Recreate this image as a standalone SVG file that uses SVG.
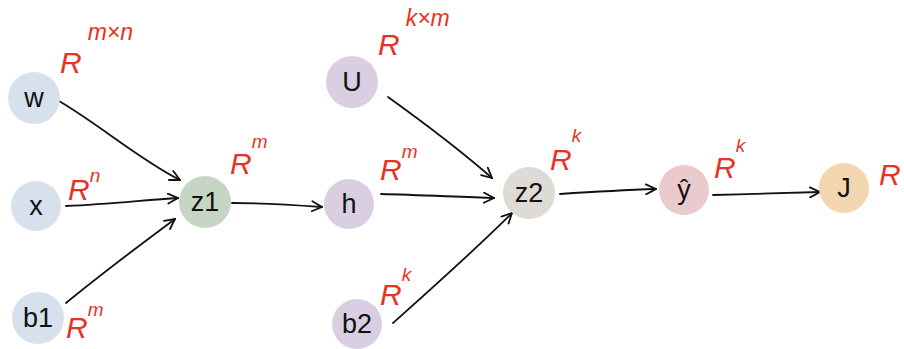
<svg xmlns="http://www.w3.org/2000/svg" width="904" height="349" viewBox="0 0 904 349">
<style>
.lbl{font-family:"Liberation Sans",Arial,sans-serif;font-size:27px;fill:#111;text-anchor:middle;dominant-baseline:central}
.dim{font-family:"Liberation Sans",Arial,sans-serif;font-style:italic;fill:#e8321f}
.dim .R{font-size:30px}
.dim .s{font-size:19px}
.dim .w{font-size:23px}
.edge{fill:none;stroke:#111;stroke-width:1.8;stroke-linecap:round}
</style>
<defs>
<marker id="ah" viewBox="0 0 12 12" refX="11" refY="6" markerWidth="12" markerHeight="12" markerUnits="userSpaceOnUse" orient="auto">
<path d="M1,1 L11,6 L1,11" fill="none" stroke="#111" stroke-width="1.8" stroke-linecap="round"/>
</marker>
</defs>
<g id="connectors">
<path class="edge" marker-end="url(#ah)" d="M59,101 C100,125 140,160 180,180"/>
<path class="edge" marker-end="url(#ah)" d="M66,206 C110,204 145,200 178,198"/>
<path class="edge" marker-end="url(#ah)" d="M66,303 C100,275 140,245 175,219"/>
<path class="edge" marker-end="url(#ah)" d="M232,203 C265,203 295,205 322,207"/>
<path class="edge" marker-end="url(#ah)" d="M388,97 C420,120 460,150 492,178"/>
<path class="edge" marker-end="url(#ah)" d="M381,194 C420,195 460,197 494,198"/>
<path class="edge" marker-end="url(#ah)" d="M393,323 C430,290 475,250 512,213"/>
<path class="edge" marker-end="url(#ah)" d="M560,194 C590,192 625,190 656,189"/>
<path class="edge" marker-end="url(#ah)" d="M713,195 C750,194 790,193 820,192"/>
</g>
<g id="node-W"><circle cx="34" cy="98" r="26" fill="#d6e1ed"/><text class="lbl" x="34" y="98">w</text></g>
<g id="node-x"><circle cx="36" cy="206" r="25" fill="#d6e1ed"/><text class="lbl" x="36" y="206">x</text></g>
<g id="node-b1"><circle cx="38" cy="318" r="26" fill="#d6e1ed"/><text class="lbl" x="38" y="318">b1</text></g>
<g id="node-z1"><circle cx="205" cy="202" r="26" fill="#c5d6c4"/><text class="lbl" x="205" y="202">z1</text></g>
<g id="node-h"><circle cx="349" cy="204" r="25" fill="#dacfe2"/><text class="lbl" x="349" y="204">h</text></g>
<g id="node-U"><circle cx="352" cy="82" r="26" fill="#dacfe2"/><text class="lbl" x="352" y="82">U</text></g>
<g id="node-b2"><circle cx="357" cy="324" r="25" fill="#dacfe2"/><text class="lbl" x="357" y="324">b2</text></g>
<g id="node-z2"><circle cx="529" cy="193" r="26" fill="#dedad6"/><text class="lbl" x="529" y="193">z2</text></g>
<g id="node-yhat"><circle cx="684" cy="190" r="25" fill="#eacacc"/><text class="lbl" x="684" y="190">ŷ</text></g>
<g id="node-J"><circle cx="844" cy="188" r="25" fill="#f2d6b0"/><text class="lbl" x="844" y="188">J</text></g>
<g id="dims">
<text class="dim" x="60" y="73"><tspan class="R">R</tspan><tspan class="w" dx="6" dy="-33">m×n</tspan></text>
<text class="dim" x="68" y="200"><tspan class="R">R</tspan><tspan class="s" dy="-18">n</tspan></text>
<text class="dim" x="66" y="338"><tspan class="R">R</tspan><tspan class="s" dy="-22">m</tspan></text>
<text class="dim" x="230" y="174"><tspan class="R">R</tspan><tspan class="s" dy="-26">m</tspan></text>
<text class="dim" x="378" y="55"><tspan class="R">R</tspan><tspan class="w" dx="6" dy="-29">k×m</tspan></text>
<text class="dim" x="380" y="180"><tspan class="R">R</tspan><tspan class="s" dy="-22">m</tspan></text>
<text class="dim" x="380" y="305"><tspan class="R">R</tspan><tspan class="s" dy="-24">k</tspan></text>
<text class="dim" x="550" y="170"><tspan class="R">R</tspan><tspan class="s" dy="-28">k</tspan></text>
<text class="dim" x="714" y="178"><tspan class="R">R</tspan><tspan class="s" dy="-26">k</tspan></text>
<text class="dim" x="879" y="185"><tspan class="R">R</tspan></text>
</g>
</svg>
